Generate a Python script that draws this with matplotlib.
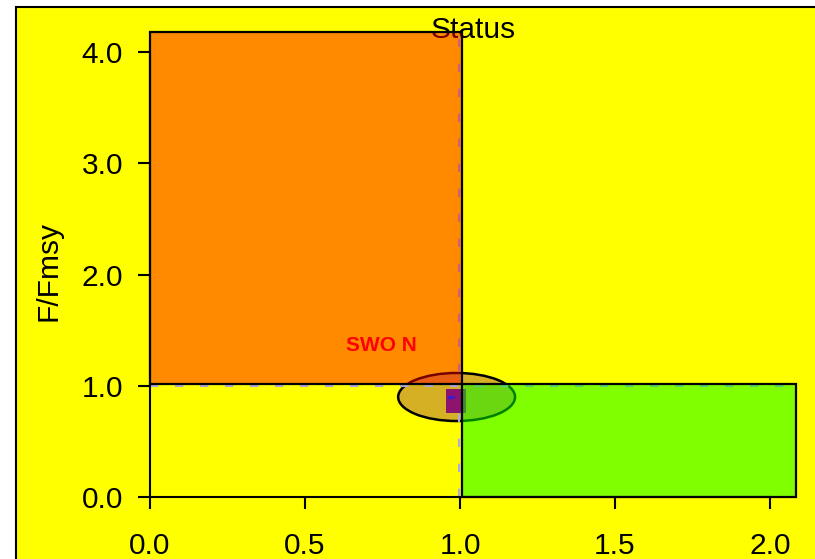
import matplotlib
matplotlib.use('Agg')
import matplotlib.pyplot as plt
from matplotlib.patches import Rectangle, Ellipse

plt.rcParams['font.family'] = ['Liberation Sans', 'DejaVu Sans']

# kobe quadrants: x0, x1, y0, y1
red_zone = [0.0, 1.005, 1.015, 4.18]
green_zone = [1.005, 2.085, 0.0, 1.015]

# reference lines B/Bmsy = 1, F/Fmsy = 1
ref_x = 0.998
ref_y = 1.0

# stock estimate
stock_name = 'SWO N'
label_xy = [0.745, 1.366]
ell_center = [0.989, 0.899]
ell_size = [0.377, 0.432]
point_box = [0.955, 1.019, 0.755, 0.971]
point_core = [0.961, 0.984, 0.881, 0.908]

x_ticks = [0.0, 0.5, 1.0, 1.5, 2.0]
y_ticks = [0.0, 1.0, 2.0, 3.0, 4.0]
x_lim = [0.0, 2.087]
y_lim = [0.0, 4.18]

fig = plt.figure(figsize=(8.15, 5.59), dpi=100, facecolor='white')
# yellow device background with frame
fig.patches.append(Rectangle((16/815, -0.5), 2.0, 1.5 - 7/559, transform=fig.transFigure,
                             facecolor='#ffff00', edgecolor='black', lw=1.5, zorder=-10))

ax = fig.add_axes([150/815, 62/559, 647/815, 465/559])
ax.set_facecolor('none')
ax.set_xlim(x_lim)
ax.set_ylim(y_lim)

# ellipse (under the coloured zones)
ax.add_patch(Ellipse(ell_center, ell_size[0], ell_size[1], facecolor='#d6b024',
                     edgecolor='black', lw=1.8, zorder=1))

# reference lines
ax.axvline(ref_x, color='#aeaadc', lw=1.5, dashes=(4, 8), zorder=1.5)
ax.axhline(ref_y, color='#aeaadc', lw=1.5, dashes=(4, 8), zorder=1.5)

# point
ax.add_patch(Rectangle((point_box[0], point_box[2]), point_box[1]-point_box[0], point_box[3]-point_box[2],
                       facecolor='#8c146e', edgecolor='none', zorder=1.6))
ax.add_patch(Rectangle((point_core[0], point_core[2]), point_core[1]-point_core[0], point_core[3]-point_core[2],
                       facecolor='#3a1ccc', edgecolor='none', zorder=1.7))

# title below the translucent zones
ax.text(473/815, 1 - 30/559, 'Status', transform=fig.transFigure, ha='center', va='center',
        fontsize=21.5, color='black', zorder=1, clip_on=False)

# translucent zones
for zone, col, a in [(red_zone, '#ff0000', 0.46), (green_zone, '#00ff00', 0.5)]:
    ax.add_patch(Rectangle((zone[0], zone[2]), zone[1]-zone[0], zone[3]-zone[2],
                           facecolor=col, alpha=a, edgecolor='none', zorder=2, clip_on=False))
    ax.add_patch(Rectangle((zone[0], zone[2]), zone[1]-zone[0], zone[3]-zone[2],
                           fill=False, edgecolor='black', lw=1.6, zorder=3, clip_on=False))

ax.text(label_xy[0], label_xy[1], stock_name, color='#ff0000', fontsize=15, fontweight='bold',
        ha='center', va='center', zorder=4)

for s in ['top', 'right']:
    ax.spines[s].set_visible(False)
ax.spines['left'].set_bounds(0, 4)
ax.spines['bottom'].set_bounds(0, 2)
for s in ['left', 'bottom']:
    ax.spines[s].set_linewidth(1.5)

ax.set_xticks(x_ticks)
ax.set_xticklabels(['%.1f' % v for v in x_ticks])
ax.set_yticks(y_ticks)
ax.set_yticklabels(['%.1f' % v for v in y_ticks])
ax.tick_params(axis='both', labelsize=21.5, length=8.5, width=1.5, colors='black')
ax.tick_params(axis='y', pad=11)
ax.tick_params(axis='x', pad=17)

ax.set_ylabel('F/Fmsy', fontsize=21.5)
ax.yaxis.set_label_coords(-0.136, 0.485)

fig.savefig('out.png', dpi=100, facecolor='white')
